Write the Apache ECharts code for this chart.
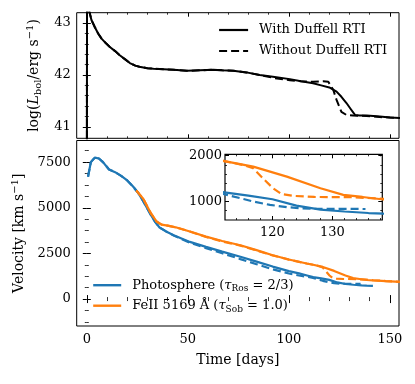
<!DOCTYPE html>
<html><head><meta charset="utf-8">
<script src="https://cdn.jsdelivr.net/npm/echarts@6/dist/echarts.min.js"></script>
<style>html,body{margin:0;padding:0;background:#fff}#c{width:415px;height:384px}</style>
</head><body><div id="c"></div>
<script>
// ---- data (time in days) ----
const lumT_with = [0, 0.1, 2.3, 4, 5.6, 7.3, 9.5, 11.4, 14, 16.3, 19, 21.3, 24, 26, 30, 33, 38, 43, 49.5, 56, 62.5, 67, 72.5, 79, 85.6, 93, 100.5, 106, 112, 116, 120, 123.6, 126, 128.5, 130.5, 132.7, 135, 138.5, 145, 150, 155];
const lum_with = [38, 43.4, 43.06, 42.92, 42.80, 42.70, 42.61, 42.54, 42.46, 42.38, 42.3, 42.23, 42.18, 42.16, 42.13, 42.12, 42.11, 42.10, 42.08, 42.09, 42.10, 42.09, 42.08, 42.05, 42.0, 41.96, 41.92, 41.88, 41.84, 41.80, 41.76, 41.68, 41.58, 41.46, 41.35, 41.23, 41.22, 41.22, 41.2, 41.18, 41.17];
const lumT_without = [0, 0.1, 2.3, 4, 5.6, 7.3, 9.5, 11.4, 14, 16.3, 19, 21.3, 24, 26, 30, 33, 38, 43, 49.5, 56, 62.5, 67, 72.5, 79, 85.6, 93, 100.5, 106, 112, 117, 119.5, 122, 123.6, 126, 128.5, 131.7, 138.5, 145, 150, 155];
const lum_without = [38, 43.4, 43.06, 42.92, 42.80, 42.70, 42.61, 42.54, 42.46, 42.38, 42.3, 42.23, 42.18, 42.16, 42.13, 42.12, 42.11, 42.10, 42.08, 42.09, 42.10, 42.09, 42.08, 42.05, 42.0, 41.94, 41.90, 41.88, 41.87, 41.88, 41.87, 41.71, 41.52, 41.29, 41.23, 41.22, 41.21, 41.19, 41.18, 41.17];

const photT_with = [0.6, 2, 4, 6, 8, 11, 14, 17, 20, 23, 25.5, 28, 30, 32, 34, 36, 39, 43, 51, 59, 67, 76, 84, 92, 100, 105, 109, 112, 116, 120, 124, 128, 132, 136, 138.5, 141.6];
const phot_with = [6700, 7500, 7750, 7700, 7500, 7100, 6950, 6750, 6500, 6150, 5800, 5350, 4950, 4550, 4200, 3920, 3720, 3500, 3130, 2860, 2600, 2320, 2050, 1780, 1530, 1410, 1290, 1200, 1130, 1050, 910, 825, 783, 750, 735, 726];
const photT_without = [0.6, 2, 4, 6, 8, 11, 14, 17, 20, 23, 25.5, 28, 30, 32, 34, 36, 39, 43, 51, 59, 67, 76, 84, 92, 100, 105, 109, 112, 114.6, 116.8, 119.6, 122.4, 125, 128, 132, 135.5];
const phot_without = [6700, 7500, 7750, 7700, 7500, 7100, 6950, 6750, 6500, 6150, 5800, 5350, 4950, 4550, 4200, 3920, 3720, 3480, 3090, 2790, 2510, 2190, 1910, 1630, 1400, 1290, 1220, 1160, 1074, 1000, 928, 878, 850, 840, 840, 838];

const feT_with = [24.5, 26, 28, 30, 32, 34.5, 37, 40, 44, 51, 59, 67, 76, 84, 92, 100, 108.8, 112, 116.8, 122.4, 128, 131.8, 135, 138.5, 141.7, 148, 155];
const fe_with = [5950, 5750, 5480, 5050, 4650, 4250, 4080, 4020, 3930, 3700, 3420, 3180, 2950, 2680, 2400, 2170, 1950, 1880, 1761, 1543, 1291, 1146, 1100, 1045, 1020, 980, 945];
const feT_without = [24.5, 26, 28, 30, 32, 34.5, 37, 40, 44, 51, 59, 67, 76, 84, 92, 100, 108.8, 112, 115, 116.8, 118.4, 120.1, 121.5, 123.5, 127, 133.3, 138.5, 141.7, 148, 155];
const fe_without = [5950, 5750, 5480, 5050, 4650, 4250, 4080, 4020, 3930, 3700, 3400, 3160, 2930, 2660, 2390, 2160, 1950, 1880, 1800, 1726, 1509, 1291, 1167, 1124, 1100, 1095, 1060, 1030, 985, 945];

// ---- ticks ----
const timeTicks = [0, 50, 100, 150];
const timeMinor = [10, 20, 30, 40, 60, 70, 80, 90, 110, 120, 130, 140];
const lumTicks = [41, 42, 43];
const lumMinor = [41.2, 41.4, 41.6, 41.8, 42.2, 42.4, 42.6, 42.8];
const velTicks = [0, 2500, 5000, 7500];
const velMinor = [-1250, -625, 625, 1250, 1875, 3125, 3750, 4375, 5625, 6250, 6875, 8125];
const insetTimeTicks = [120, 130];
const insetTimeMinor = [114, 116, 118, 122, 124, 126, 128, 132, 134, 136, 138];
const insetVelTicks = [1000, 2000];
const insetVelMinor = [800, 1200, 1400, 1600, 1800];

const FONT = 'DejaVu Serif';
const BLUE = '#1f77b4', ORANGE = '#ff7f0e';
const zip = (t, v) => t.map((x, i) => [x, v[i]]);

const xAxes = [], yAxes = [];
function addAxes(list, dim, grid, min, max, major, minor, labelOpt, nameOpt) {
  const posA = dim === 'x' ? 'bottom' : 'left';
  const posB = dim === 'x' ? 'top' : 'right';
  const base = { type: 'value', gridIndex: grid, min: min, max: max, axisLine: { show: false }, splitLine: { show: false } };
  const idx = list.length;
  const lbl = labelOpt ? Object.assign({ show: true, customValues: major, color: '#000', fontFamily: FONT, fontSize: 13, formatter: v => String(v) }, labelOpt) : { show: false };
  list.push(Object.assign({}, base, { position: posA, axisTick: { show: true, inside: true, length: 4, lineStyle: { color: '#000', width: 1 }, customValues: major }, axisLabel: lbl }, nameOpt || {}));
  list.push(Object.assign({}, base, { position: posA, axisTick: { show: true, inside: true, length: 2, lineStyle: { color: '#000', width: 0.8 }, customValues: minor }, axisLabel: { show: false } }));
  list.push(Object.assign({}, base, { position: posB, axisTick: { show: true, inside: true, length: 4, lineStyle: { color: '#000', width: 1 }, customValues: major }, axisLabel: { show: false } }));
  list.push(Object.assign({}, base, { position: posB, axisTick: { show: true, inside: true, length: 2, lineStyle: { color: '#000', width: 0.8 }, customValues: minor }, axisLabel: { show: false } }));
  return idx;
}

const nameRich = {
  t: { fontFamily: FONT, fontSize: 14, lineHeight: 18, color: '#000' },
  i: { fontFamily: FONT, fontSize: 14, lineHeight: 18, fontStyle: 'italic', color: '#000' },
  s: { fontFamily: FONT, fontSize: 10, lineHeight: 10, verticalAlign: 'bottom', color: '#000' },
  p: { fontFamily: FONT, fontSize: 10, lineHeight: 10, verticalAlign: 'top', color: '#000' }
};

const XMIN = -5, XMAX = 154.5;
const topX = addAxes(xAxes, 'x', 0, XMIN, XMAX, timeTicks, timeMinor, null);
const topY = addAxes(yAxes, 'y', 0, 40.78, 43.2, lumTicks, lumMinor, { margin: 6 },
  { name: '{t|log(}{i|L}{s|bol}{t|/erg s}{p|−1}{t|)}', nameLocation: 'middle', nameRotate: 90, nameGap: 29, nameTextStyle: { rich: nameRich } });
const botX = addAxes(xAxes, 'x', 1, XMIN, XMAX, timeTicks, timeMinor, { margin: 7 },
  { name: 'Time [days]', nameLocation: 'middle', nameGap: 27, nameTextStyle: { fontFamily: FONT, fontSize: 14, color: '#000' } });
const botY = addAxes(yAxes, 'y', 1, -1475, 8685, velTicks, velMinor, { margin: 6 },
  { name: '{t|Velocity [km s}{p|−1}{t|]}', nameLocation: 'middle', nameRotate: 90, nameGap: 46, nameTextStyle: { rich: nameRich } });
const inX = addAxes(xAxes, 'x', 2, 112.1, 138.3, insetTimeTicks, insetTimeMinor, { margin: 6 });
const inY = addAxes(yAxes, 'y', 2, 598, 2030, insetVelTicks, insetVelMinor, { margin: 3 });

function line(name, data, xi, yi, color, dashed, width) {
  return {
    type: 'line', name: name, data: data, xAxisIndex: xi, yAxisIndex: yi, symbol: 'none', showSymbol: false,
    clip: true, silent: true, animation: false,
    lineStyle: { color: color, width: width, type: dashed ? [8, 4] : 'solid' },
    itemStyle: { color: color }
  };
}

const series = [
  line('With Duffell RTI', zip(lumT_with, lum_with), topX, topY, '#000', false, 2),
  line('Without Duffell RTI', zip(lumT_without, lum_without), topX, topY, '#000', true, 2),
  line('phot', zip(photT_with, phot_with), botX, botY, BLUE, false, 2.2),
  line('phot_no', zip(photT_without, phot_without), botX, botY, BLUE, true, 2.2),
  line('fe', zip(feT_with, fe_with), botX, botY, ORANGE, false, 2.2),
  line('fe_no', zip(feT_without, fe_without), botX, botY, ORANGE, true, 2.2),
  line('phot_i', zip(photT_with, phot_with), inX, inY, BLUE, false, 2.2),
  line('phot_no_i', zip(photT_without, phot_without), inX, inY, BLUE, true, 2.2),
  line('fe_i', zip(feT_with, fe_with), inX, inY, ORANGE, false, 2.2),
  line('fe_no_i', zip(feT_without, fe_without), inX, inY, ORANGE, true, 2.2)
];

const legRich = {
  t: { fontFamily: FONT, fontSize: 13, lineHeight: 16, color: '#000' },
  i: { fontFamily: FONT, fontSize: 13, lineHeight: 16, fontStyle: 'italic', color: '#000' },
  s: { fontFamily: FONT, fontSize: 9, lineHeight: 9, verticalAlign: 'bottom', color: '#000' }
};

const option = {
  animation: false,
  backgroundColor: '#fff',
  grid: [
    { left: 76.7, top: 12.7, width: 322.3, height: 125.6, show: true, borderColor: '#000', borderWidth: 1, backgroundColor: 'transparent' },
    { left: 76.7, top: 140.5, width: 322.3, height: 185.5, show: true, borderColor: '#000', borderWidth: 1, backgroundColor: 'transparent' },
    { left: 225, top: 154.3, width: 157.3, height: 65.7, show: true, borderColor: '#000', borderWidth: 1.2, backgroundColor: '#fff' }
  ],
  xAxis: xAxes,
  yAxis: yAxes,
  legend: [
    { data: ['With Duffell RTI', 'Without Duffell RTI'], orient: 'vertical', left: 218, top: 23, itemWidth: 29, itemHeight: 14, itemGap: 7, padding: 0, selectedMode: false,
      itemStyle: { opacity: 0 }, lineStyle: { width: 2.2 },
      textStyle: { fontFamily: FONT, fontSize: 13, color: '#000', lineHeight: 14, padding: [0, 0, 0, 6] } },
    { data: ['phot', 'fe'], orient: 'vertical', left: 92, top: 278.7, itemWidth: 28, itemHeight: 14, itemGap: 6, padding: 0, selectedMode: false,
      itemStyle: { opacity: 0 }, lineStyle: { width: 2.4 },
      formatter: n => n === 'phot' ? '{t|Photosphere (}{i|τ}{s|Ros}{t| = 2/3)}' : '{t|FeII 5169 Å (}{i|τ}{s|Sob}{t| = 1.0)}',
      textStyle: { fontFamily: FONT, fontSize: 13, color: '#000', padding: [0, 0, 0, 6], rich: legRich } }
  ],
  series: series
};

const chart = echarts.init(document.getElementById('c'), null, { renderer: 'canvas' });
chart.setOption(option);
</script>
</body></html>
